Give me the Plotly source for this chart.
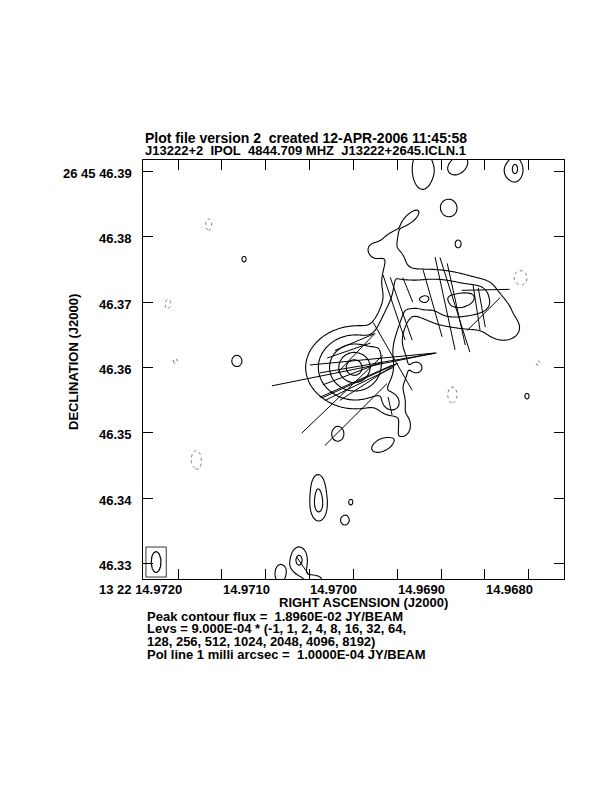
import numpy as np
import plotly.graph_objects as go

# ---------------- axis labels ----------------
RA_TICKS = [14.9720, 14.9715, 14.9710, 14.9705, 14.9700, 14.9695, 14.9690, 14.9685, 14.9680]
RA_LABELS = ["13 22 14.9720", "", "14.9710", "", "14.9700", "", "14.9690", "", "14.9680"]
DEC_TICKS = [46.39, 46.38, 46.37, 46.36, 46.35, 46.34, 46.33]
DEC_LABELS = ["26 45 46.39", "46.38", "46.37", "46.36", "46.35", "46.34", "46.33"]
RA_RANGE = [14.972399, 14.967599]
DEC_RANGE = [46.327596, 46.391792]

# reference position of offsets (RA seconds, Dec arcsec) and declination
RA0 = 14.9700
DEC0 = 46.36
DEC_DEG = 26.7629

# contour levels (mJy/beam)
BASE_LEVEL = 0.9
LEVEL_MULTS = [-1, 1, 2, 4, 8, 16, 32, 64, 128, 256, 512, 1024, 2048, 4096, 8192]

# ---------------- source model: gaussian components ----------------
# offsets in mas (RA positive east), amplitude mJy/beam, sigmas in mas, PA deg
comp_ra = [-0.1, -0.1, -0.5,            # east core
           -5.6, -5.9, -7.9, 2.4, -4.4,  # neck, SE, south blobs
           -15.5, -14.0, -8.9, -10.8, -17.0, -23.1,  # west component
           -5.0, -8.8, -6.3, -3.0, -10.5, -16.0, -24.4, -24.7, -14.6, -16.0, -9.8,  # north
           22.1, 16.7, 28.3, 27.7, 27.2, 17.8, 24.0, 24.9,   # east noise
           5.3, 5.4, 0.4, 1.3, 11.2, 8.3, 5.9,                # south noise
           -28.2, -26.5, -15.1, -25.4]                        # west noise
comp_dec = [0.0, 0.0, 0.0,
            6.9, -5.5, -8.8, -10.3, -11.9,
            10.2, 11.1, 10.3, 10.2, 10.3, 5.7,
            19.0, 23.0, 15.6, 18.2, 30.4, 31.0, 30.2, 30.5, 24.4, 19.0, 0.0,
            21.9, 16.6, 9.6, 7.4, 1.0, 1.0, -14.3, -16.8,
            -21.3, -18.0, -20.6, -23.4, -31.6, -29.5, -32.6,
            0.7, -4.4, -4.2, 13.5]
comp_amp = [11.5, 6.0, 3.3,
            2.5, 1.9, 1.1, 1.12, 1.2,
            1.6, 1.8, 1.5, 1.5, 1.5, 1.0,
            1.15, 1.05, 1.1, 0.95, 1.5, 1.2, 1.2, 0.9, 1.25, 1.0, 0.95,
            -1.12, 1.0, -1.12, 1.0, -1.0, 1.3, -1.45, 1.0,
            1.9, 1.26, 1.0, 1.26, 1.3, 2.0, 1.17,
            -1.03, 1.0, -1.35, -1.35]
comp_smaj = [1.07, 2.14, 4.8,
             3.5, 1.2, 1.5, 1.4, 2.2,
             7.5, 4.5, 0.8, 0.8, 2.2, 1.6,
             2.2, 1.8, 2.2, 0.8, 3.0, 2.2, 2.0, 1.0, 1.6, 0.9, 0.6,
             1.3, 0.9, 1.3, 0.9, 0.8, 1.0, 1.6, 0.9,
             1.8, 1.8, 0.9, 0.9, 1.6, 1.6, 1.5,
             0.9, 0.9, 1.4, 1.8]
comp_smin = [1.07, 2.14, 3.8,
             1.2, 1.2, 1.0, 1.2, 1.2,
             3.6, 1.6, 0.8, 0.8, 1.0, 1.2,
             1.0, 0.9, 1.1, 0.8, 1.5, 1.6, 1.8, 0.5, 1.5, 0.7, 0.6,
             0.7, 0.7, 0.7, 0.7, 0.7, 0.9, 0.8, 0.7,
             1.0, 1.0, 0.7, 0.8, 0.9, 1.0, 1.0,
             0.8, 0.7, 0.8, 1.6]
comp_pa = [0, 0, 90,
           159, 0, 0, 0, 115,
           75, 80, 0, 0, 120, 90,
           140, 130, 165, 0, 0, 135, 0, 0, 0, 0, 0,
           0, 0, 0, 0, 0, 0, 0, 0,
           0, 0, 0, 0, 0, 0, 90,
           0, 0, 0, 0]

# ---------------- polarization vectors ----------------
# centre offsets (mas), polarized intensity (mJy/beam), position angle (deg)
vec_ra = [-14.0, -15.5, -15.7, -12.1, -6.2, -6.0, -20.2, -19.9, -7.3, -8.3, -18.8, -19.6,
          0.0, -2.9, 1.7, -0.4, -0.4, -0.9, -1.0, -0.2, 0.7, 0.1, -0.5, -5.6, 7.8, -3.8, -2.3]
vec_dec = [9.8, 9.6, 9.7, 9.8, 9.2, 1.7, 11.9, 8.2, 9.0, 11.9, 9.2, 9.2,
           -0.3, 1.3, -4.1, -7.2, -2.1, -2.5, -2.0, 3.9, 2.6, -0.9, 2.3, -5.9, -30.3, 0.7, -2.2]
vec_pi = [1.45, 1.52, 1.28, 1.06, 1.05, 1.20, 0.73, 0.71, 1.02, 0.41, 0.70, 0.61,
          2.54, 1.92, 1.72, 1.34, 1.20, 1.16, 1.28, 0.66, 0.70, 0.98, 0.82, 0.28, 0.30, 1.81, 1.04]
vec_pa = [12.1, 17.5, 12.4, 15.8, 18.7, 29.8, 91.2, 135.0, 19.2, 21.8, 8.8, 10.2,
          101.4, 95.5, 133.9, 135.0, 114.0, 115.9, 114.7, 113.0, 109.2, 111.0, 136.5, 12.5, 34.5,
          99.7, 123.0]
POL_SCALE = 0.1  # mJy/beam per mas of line

# beam (mas, deg)
BMAJ = 3.2
BMIN = 1.5
BPA = 0.0

TITLE1 = "Plot file version 2\u00a0 created 12-APR-2006 11:45:58"
TITLE2 = "J13222+2\u00a0 IPOL\u00a0 4844.709 MHZ\u00a0 J13222+2645.ICLN.1"
FOOT = ["Peak contour flux =\u00a0 1.8960E-02 JY/BEAM",
        "Levs = 9.000E-04 * (-1, 1, 2, 4, 8, 16, 32, 64,",
        "128, 256, 512, 1024, 2048, 4096, 8192)",
        "Pol line 1 milli arcsec =\u00a0 1.0000E-04 JY/BEAM"]

# ---------------- helpers ----------------
COSD = np.cos(np.radians(DEC_DEG))


def to_ra(off):
    return RA0 + np.asarray(off, dtype=float) / (15000.0 * COSD)


def to_dec(off):
    return DEC0 + np.asarray(off, dtype=float) / 1000.0


gx = np.linspace(34, -34, 341)
gy = np.linspace(-34, 34, 341)
X, Y = np.meshgrid(gx, gy)
field = np.zeros_like(X)
for ra, de, a, smj, smn, pa in zip(comp_ra, comp_dec, comp_amp, comp_smaj, comp_smin, comp_pa):
    t = np.radians(pa)
    dx = X - ra
    dy = Y - de
    u = dx * np.sin(t) + dy * np.cos(t)   # along major axis
    v = dx * np.cos(t) - dy * np.sin(t)
    field += a * np.exp(-0.5 * ((u / smj) ** 2 + (v / smn) ** 2))

pos_levels = [m for m in LEVEL_MULTS if m > 0]
zpos = np.log2(np.maximum(field, 1e-6) / BASE_LEVEL)
zneg = -field / BASE_LEVEL

xs = to_ra(gx)
ys = to_dec(gy)

fig = go.Figure()
fig.add_trace(go.Contour(
    x=xs, y=ys, z=zpos,
    contours=dict(start=0, end=np.log2(max(pos_levels)), size=1, coloring="lines"),
    colorscale=[[0, "black"], [1, "black"]], showscale=False,
    line=dict(width=1.1, smoothing=1.0), hoverinfo="skip"))
fig.add_trace(go.Contour(
    x=xs, y=ys, z=zneg,
    contours=dict(start=1, end=1, size=1, coloring="lines"),
    colorscale=[[0, "#777777"], [1, "#777777"]], showscale=False,
    line=dict(width=1, dash="dot", smoothing=1.0), hoverinfo="skip"))

# polarization vectors
vx, vy = [], []
for ra, de, p, pa in zip(vec_ra, vec_dec, vec_pi, vec_pa):
    half = 0.5 * p / POL_SCALE
    e = half * np.sin(np.radians(pa))
    n = half * np.cos(np.radians(pa))
    vx += [float(to_ra(ra + e)), float(to_ra(ra - e)), None]
    vy += [float(to_dec(de + n)), float(to_dec(de - n)), None]
fig.add_trace(go.Scatter(x=vx, y=vy, mode="lines", line=dict(color="black", width=1),
                         hoverinfo="skip", showlegend=False))

# beam in lower-left corner
left_off = (RA_RANGE[0] - RA0) * 15000.0 * COSD
bottom_off = (DEC_RANGE[0] - DEC0) * 1000.0
pad = 0.8
bw = BMIN + 2 * pad
bh = BMAJ + 1.4
bx0 = left_off - 0.45
by0 = bottom_off + 0.3
cx = bx0 - bw / 2
cy = by0 + bh / 2
th = np.linspace(0, 2 * np.pi, 80)
tp = np.radians(BPA)
eu = BMAJ / 2 * np.cos(th)
ev = BMIN / 2 * np.sin(th)
ex = cx + eu * np.sin(tp) + ev * np.cos(tp)
ey = cy + eu * np.cos(tp) - ev * np.sin(tp)
fig.add_trace(go.Scatter(x=to_ra(ex), y=to_dec(ey), mode="lines",
                         line=dict(color="black", width=1.2), hoverinfo="skip", showlegend=False))
fig.add_trace(go.Scatter(x=to_ra([bx0, bx0 - bw, bx0 - bw, bx0, bx0]),
                         y=to_dec([by0, by0, by0 + bh, by0 + bh, by0]), mode="lines",
                         line=dict(color="black", width=0.8), hoverinfo="skip", showlegend=False))

FAM = "Liberation Sans, Arial, sans-serif"
F13 = dict(family=FAM, size=13, color="black")
F14 = dict(family=FAM, size=14, color="black")
ann = []
for v, t in zip(RA_TICKS, RA_LABELS):
    if t:
        ann.append(dict(x=v, y=0, xref="x", yref="paper", text="<b>%s</b>" % t, showarrow=False,
                        xanchor="right", yanchor="middle", xshift=6, yshift=-10, font=F13))
for v, t in zip(DEC_TICKS, DEC_LABELS):
    ann.append(dict(x=0, y=v, xref="paper", yref="y", text="<b>%s</b>" % t, showarrow=False,
                    xanchor="right", yanchor="middle", xshift=-9, yshift=-2, font=F13))

W, H = 421.0, 419.0


def px(xp):
    return (xp - 143) / W


def py(yp):
    return (579 - yp) / H


ann.append(dict(x=px(143), y=py(138), xref="paper", yref="paper", text="<b>%s</b>" % TITLE1,
                showarrow=False, xanchor="left", yanchor="middle", font=F14))
ann.append(dict(x=px(143), y=py(150.5), xref="paper", yref="paper", text="<b>%s</b>" % TITLE2,
                showarrow=False, xanchor="left", yanchor="middle", font=F13))
ann.append(dict(x=px(363), y=py(602), xref="paper", yref="paper", text="<b>RIGHT ASCENSION (J2000)</b>",
                showarrow=False, xanchor="center", yanchor="middle", font=F13))
for i, line in enumerate(FOOT):
    ann.append(dict(x=px(145), y=py(616 + 12.8 * i), xref="paper", yref="paper", text="<b>%s</b>" % line,
                    showarrow=False, xanchor="left", yanchor="middle", font=F13))
ann.append(dict(x=px(73), y=py(362), xref="paper", yref="paper", text="<b>DECLINATION (J2000)</b>",
                showarrow=False, xanchor="center", yanchor="middle", textangle=-90, font=F13))

# the page body has an 8 px margin, so the plot box is shifted by that amount
fig.update_layout(
    width=612, height=792, margin=dict(l=135, r=56, t=152, b=221),
    paper_bgcolor="white", plot_bgcolor="white", showlegend=False,
    annotations=ann,
    xaxis=dict(range=RA_RANGE, tickvals=RA_TICKS, ticktext=[""] * len(RA_TICKS), ticks="inside",
               ticklen=10, tickcolor="black", tickwidth=1, showgrid=False, zeroline=False,
               showline=True, linecolor="black", linewidth=1, mirror="ticks"),
    yaxis=dict(range=DEC_RANGE, tickvals=DEC_TICKS, ticktext=[""] * len(DEC_TICKS), ticks="inside",
               ticklen=10, tickcolor="black", tickwidth=1, showgrid=False, zeroline=False,
               showline=True, linecolor="black", linewidth=1, mirror="ticks"),
)
fig.write_html("out.html")
